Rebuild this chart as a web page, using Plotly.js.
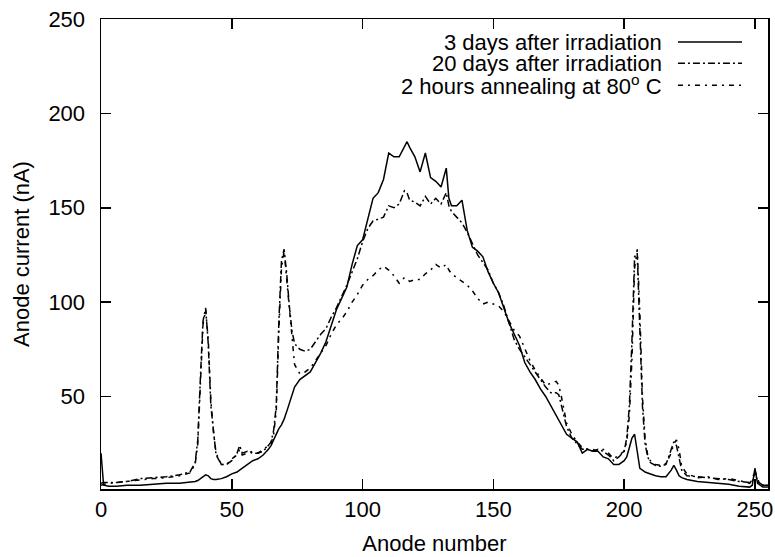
<!DOCTYPE html>
<html>
<head>
<meta charset="utf-8">
<script src="https://cdn.plot.ly/plotly-3.0.1.min.js"></script>
<style>html,body{margin:0;padding:0;background:#fff}#plot{width:775px;height:557px}</style>
</head>
<body>
<div id="plot"></div>
<script>
const anode = [0,1,3,6,10,15,20,25,30,34,36,37,38,39,40,41,42,43,44,46,48,50,52,53,54,56,58,60,62,64,65,66,67,68,69,70,71,72,73,74,76,78,80,82,84,86,88,90,92,94,96,98,100,102,104,106,108,110,112,114,116,117,118,120,122,124,126,128,130,132,133,134,136,138,140,142,144,146,148,150,152,154,156,158,160,162,164,166,168,170,172,174,175,176,178,180,182,184,186,188,190,192,194,196,198,200,201,202,203,204,205,206,207,208,209,210,212,214,216,218,219,220,221,222,224,228,232,236,240,244,248,249,250,251,252,253,255];

const days3 = [20,3,2.5,2.5,3,3,3.5,4,4,4.5,5,5.5,6.5,7.5,8.5,8,6.5,6,6,6.5,7.5,9,10,11,12,14,16,17,19,22,24,27,30,33,35,38,42,46,50,55,59,61,63,68,73,79,87,96,102,108,120,130,133,144,155,158,165,179,177,177,182,185,182,177,169,179,166,164,161,171,155,151,151,154,138,129,127,124,116,110,105,97,89,83,77,68,63,59,54,50,45,40,38,35,30,28,26,20,22,21,21,18,17,14,14,16,18,23,28,30,20,12,11,10,9.5,9,8,7.5,7.5,11,13.5,11,8,7,6,5,4.5,4,3.5,2.5,2,3,12,4,3,2,2];

const days20 = [4,4.5,4.5,4.5,5,6.5,7,7.5,8.5,10,15,27,60,90,97,78,45,30,19,14,14,16,20,24,20,21,20,20,21,24,26,32,45,90,122,128,115,98,85,78,75,74,75,79,83,86,92,97,103,109,116,123,132,139,143,144,145,151,150,152,159,158,154,153,151,156,152,155,152,158,151,148,145,142,137,131,125,121,117,110,105,98,89,80,75,71,67,63,59,55,52,52,51,45,34,28,25,22,22,21,22,21,19,16,18,21,28,45,80,124,126,85,45,25,18,15,13.5,13,14,22,26,24,18,11,8,7.5,7,6.5,6,5,4.5,5,10,5,4,3,3];

const anneal = [3,3.5,4,4.5,5,6,6.5,7,8,9.5,14,25,55,88,96,80,48,31,20,14,14,17,19,22,19,20,21,20,22,24,25,30,42,85,118,127,112,95,80,67,62,63,65,69,73,77,83,88,91,95,100,104,109,112,114,117,119,117,114,110,113,112,111,112,112,115,117,120,118,120,117,115,113,111,109,106,102,99,100,99,98,95,90,85,82,75,69,64,60,56,57,58,56,50,36,30,26,23,22,22,21,22,20,17,19,21,26,40,70,118,128,95,50,28,19,16,14,13.5,14.5,20,25,27,22,13,9,7,7.5,6,6.5,5.5,4,6,11,6,4,3,3];

const seriesNames = ["3 days after irradiation", "20 days after irradiation", "2 hours annealing at 80<sup>o</sup> C"];
const xTicks = [0,50,100,150,200,250];
const yTicks = [50,100,150,200,250];

const dashes = ["solid", "7px,3px,2px,3px", "5px,5px,2px,5px"];
const ys = [days3, days20, anneal];

const traces = ys.map((y, i) => ({
  x: anode, y: y, type: "scatter", mode: "lines", name: seriesNames[i],
  line: {color: "#000", width: 1.5, dash: dashes[i]}, showlegend: false
}));

const fnt = {family: "Liberation Sans, Arial, sans-serif", size: 22, color: "#000"};

const rowY = [0.951, 0.906, 0.859];
const annotations = seriesNames.map((t, i) => ({
  xref: "paper", yref: "paper", x: 0.843, y: rowY[i], xanchor: "right", yanchor: "middle",
  text: t, showarrow: false, font: fnt, borderpad: 0
}));
const shapes = seriesNames.map((t, i) => ({
  type: "line", xref: "paper", yref: "paper", x0: 0.865, x1: 0.961, y0: rowY[i], y1: rowY[i],
  line: {color: "#000", width: 1.5, dash: dashes[i]}
}));

const axisBase = {
  showgrid: false, zeroline: false, showline: true, linecolor: "#000", linewidth: 1.5,
  mirror: "ticks", ticks: "inside", ticklen: 10, tickwidth: 1.5, tickcolor: "#000",
  tickfont: fnt
};

const layout = {
  width: 775, height: 557,
  margin: {l: 101, r: 7, t: 19, b: 68},
  paper_bgcolor: "#fff", plot_bgcolor: "#fff",
  font: fnt,
  showlegend: false,
  xaxis: Object.assign({}, axisBase, {
    range: [0, 255], tickmode: "array", tickvals: xTicks, ticktext: xTicks.map(String),
    ticklabelstandoff: 0,
    title: {text: "Anode number", font: fnt, standoff: 14}
  }),
  yaxis: Object.assign({}, axisBase, {
    range: [1, 250], tickmode: "array", tickvals: yTicks, ticktext: yTicks.map(String),
    ticklabelstandoff: 10,
    title: {text: "Anode current (nA)", font: fnt, standoff: 12}
  }),
  annotations: annotations,
  shapes: shapes
};

Plotly.newPlot("plot", traces, layout, {displayModeBar: false, staticPlot: true});
</script>
</body>
</html>
